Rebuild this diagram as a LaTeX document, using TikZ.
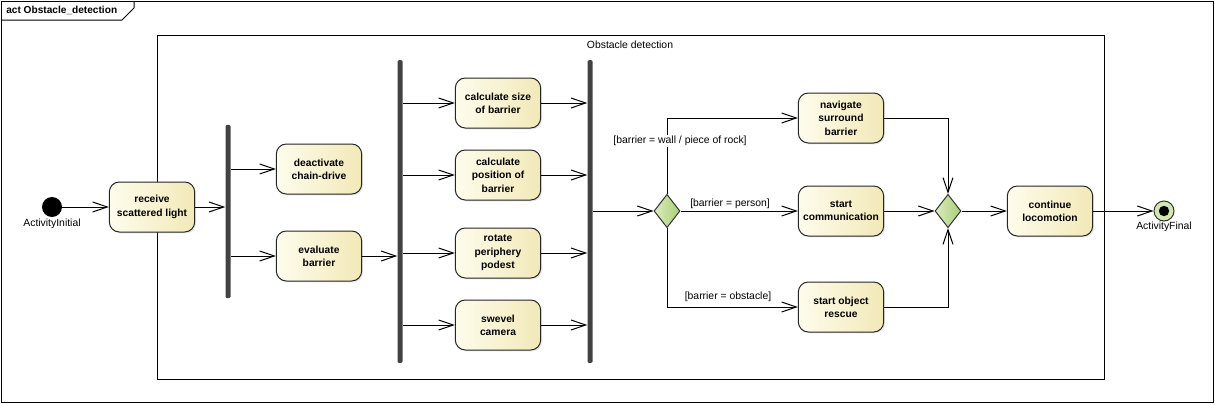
\documentclass[tikz,border=0pt]{standalone}
\usepackage{fontspec}
\setmainfont{Liberation Sans}
\usetikzlibrary{
    arrows.meta,
    calc,
    shadows,
    shapes.geometric,
    %positioning,
}
\definecolor{actleft}{HTML}{FEFCEC}
\definecolor{actright}{HTML}{F2E9B8}
\definecolor{decleft}{HTML}{DCEBBE}
\definecolor{decright}{HTML}{A8CF78}
\definecolor{barcolor}{HTML}{424242}
\definecolor{endcolor}{HTML}{D3E8B0}

\begin{document}
\begin{tikzpicture}[
        x=0.75pt, y=-0.75pt,
        action/.style={rectangle, rounded corners=7.5pt, draw=black!85, line width=0.75pt,
            left color=actleft, right color=actright, minimum width=64pt, minimum height=37.5pt,
            inner sep=1pt, align=center, font=\fontsize{7.7}{10}\selectfont\bfseries,
            drop shadow={shadow xshift=1pt, shadow yshift=-1pt, opacity=0.2}},
        bar/.style={rectangle, fill=barcolor, minimum width=3.75pt, inner sep=0pt, rounded corners=1pt},
        decision/.style={diamond, draw=black!80, line width=0.75pt, left color=decleft, right color=decright,
            inner sep=0pt, minimum width=19.5pt, minimum height=25pt},
        guard/.style={fill=white, inner sep=1pt, font=\fontsize{7.8}{9}\selectfont},
        caption/.style={inner sep=1pt, font=\fontsize{7.8}{9}\selectfont},
        flow/.style={line width=0.75pt, -{Straight Barb[length=11pt,width=7.5pt,line width=0.75pt]}}
        ]
        \useasboundingbox (0,0) rectangle (1215,404);
        % frames
        \draw[line width=0.75pt] (1,1) rectangle (1213,402);
        \draw[line width=0.75pt] (1,20) -- (122,20) -- (134,8) -- (134,1);
        \node[anchor=west, inner sep=0pt, font=\fontsize{7.6}{9}\selectfont\bfseries] (title) at (6,10.5) {act Obstacle\_detection};
        \draw[line width=0.75pt] (157,35) rectangle (1104,379);
        \node[caption] (group) at (630,45) {Obstacle detection};

        \node[circle, fill=black, minimum size=15pt, inner sep=0pt] (start) at (52,207) {};
        \node[caption] (startlbl) at (52,224) {ActivityInitial};
        \node[action] (recv)    at (152,207) {receive\\scattered light};
        \node[bar, minimum height=130pt] (fork1) at (228,211.5) {};
        \node[action] (deact)   at (319,169) {deactivate\\chain-drive};
        \node[action] (eval)    at (319,256) {evaluate\\barrier};
        \node[bar, minimum height=227pt] (fork2) at (400,211.5) {};
        \node[action] (size)    at (498,103) {calculate size\\of barrier};
        \node[action] (pos)     at (498,175) {calculate\\position of\\barrier};
        \node[action] (rotate)  at (498,253) {rotate\\periphery\\podest};
        \node[action] (camera)  at (498,325) {swevel\\camera};
        \node[bar, minimum height=227pt] (join) at (590,211.5) {};
        \node[decision] (decide) at (667,211) {};
        \node[action] (nav)     at (841,118) {navigate\\surround\\barrier};
        \node[action] (talk)    at (841,211) {start\\communication};
        \node[action] (rescue)  at (841,307) {start object\\rescue};
        \node[decision] (merge) at (948,211) {};
        \node[action] (cont)    at (1050,211) {continue\\locomotion};
        \node[circle, draw=black!80, line width=0.75pt, fill=endcolor, minimum size=15pt, inner sep=0pt] (final) at (1164,211) {};
        \fill (final) circle (3.9pt);
        \node[caption] (finallbl) at (1164,227) {ActivityFinal};

        \draw[flow] (start) -- (recv);
        \draw[flow] (recv) -- (recv -| fork1.west);
        \draw[flow] (deact -| fork1.east) -- (deact);
        \draw[flow] (eval -| fork1.east) -- (eval);
        \draw[flow] (eval) -- (eval -| fork2.west);
        \draw[flow] (size -| fork2.east) -- (size);
        \draw[flow] (pos -| fork2.east) -- (pos);
        \draw[flow] (rotate -| fork2.east) -- (rotate);
        \draw[flow] (camera -| fork2.east) -- (camera);
        \draw[flow] (size) -- (size -| join.west);
        \draw[flow] (pos) -- (pos -| join.west);
        \draw[flow] (rotate) -- (rotate -| join.west);
        \draw[flow] (camera) -- (camera -| join.west);
        \draw[flow] (join.east |- decide) -- (decide);
        \draw[flow] (decide.north) |- (nav);
        \draw[flow] (decide) -- (talk);
        \draw[flow] (decide.south) |- (rescue);
        \draw[flow] (nav) -| (merge.north);
        \draw[flow] (talk) -- (merge);
        \draw[flow] (rescue) -| (merge.south);
        \draw[flow] (merge) -- (cont);
        \draw[flow] (cont) -- (final);
        \node[guard] (g1) at (680,141) {[barrier = wall / piece of rock]};
        \node[guard] (g2) at (730,204) {[barrier = person]};
        \node[guard] (g3) at (728,297) {[barrier = obstacle]};

    \end{tikzpicture}
\end{document}
